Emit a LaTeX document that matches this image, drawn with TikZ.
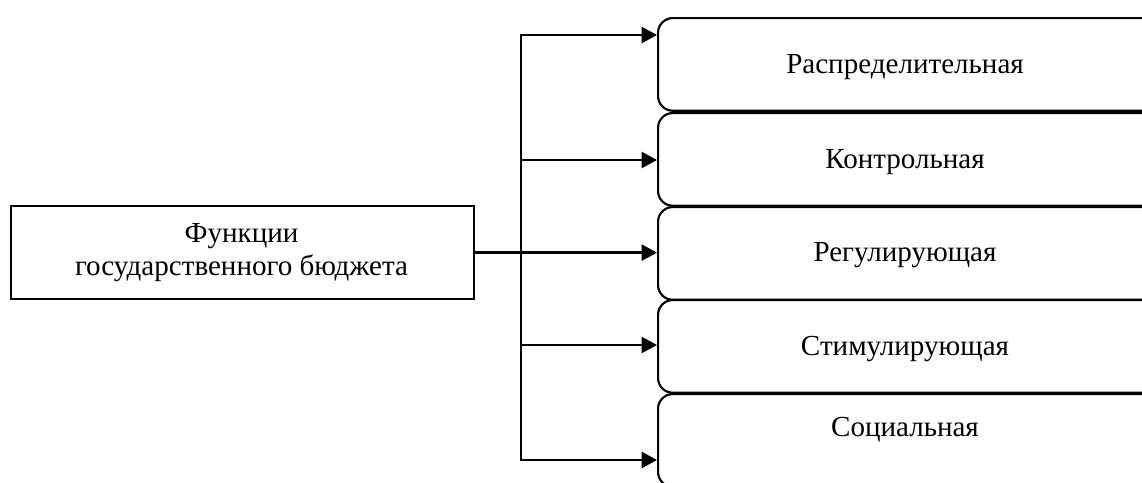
\documentclass[tikz,border=0pt]{standalone}
\usepackage{fontspec}
\setmainfont{Liberation Serif}
\usetikzlibrary{arrows.meta}
\begin{document}
\begin{tikzpicture}[x=0.75pt,y=-0.75pt,
  fbox/.style={draw=black,line width=1.6pt,rounded corners=11pt,minimum width=375pt,minimum height=69.5pt,inner sep=0pt,anchor=north west},
  mainbox/.style={draw=black,line width=1.7pt,minimum width=347pt,minimum height=69.75pt,inner sep=0pt,anchor=north west},
  txt/.style={font=\fontsize{21.8}{26}\selectfont,inner sep=0pt,anchor=base},
  conn/.style={line width=1.8pt},
  tip/.tip={Triangle[length=11.5pt,width=12pt]},
  arr/.style={line width=1.8pt,-tip},
  darr/.style={line width=1.8pt,tip-tip}]
\useasboundingbox (0,0) rectangle (1142,482);
\begin{scope}
\clip (0,0) rectangle (1142,482);
\node[mainbox] (f) at (10,205) {};
\node[txt] (f1) at (241.5,242) {Функции};
\node[txt] (f2) at (241.5,275) {государственного бюджета};
\node[fbox] (b1) at (657,17) {};
\node[fbox] (b2) at (657,112) {};
\node[fbox] (b3) at (657,206) {};
\node[fbox] (b4) at (657,299) {};
\node[fbox] (b5) at (657,393) {};
\node[txt] (t1) at (905,73) {Распределительная};
\node[txt] (t2) at (905,168) {Контрольная};
\node[txt] (t3) at (905,261) {Регулирующая};
\node[txt] (t4) at (905,355) {Стимулирующая};
\node[txt] (t5) at (905,436) {Социальная};
\coordinate (top) at (521,35);
\coordinate (bot) at (521,460);
\coordinate (m2) at (521,160);
\coordinate (m4) at (521,345);
\draw[darr] (b1.west |- top) -- (top) -- (bot) -- (b5.west |- bot);
\draw[arr] (m2) -- (b2.west |- m2);
\draw[arr] (f.east) -- (b3.west |- f.east);
\draw[arr] (m4) -- (b4.west |- m4);
\end{scope}
\end{tikzpicture}
\end{document}
